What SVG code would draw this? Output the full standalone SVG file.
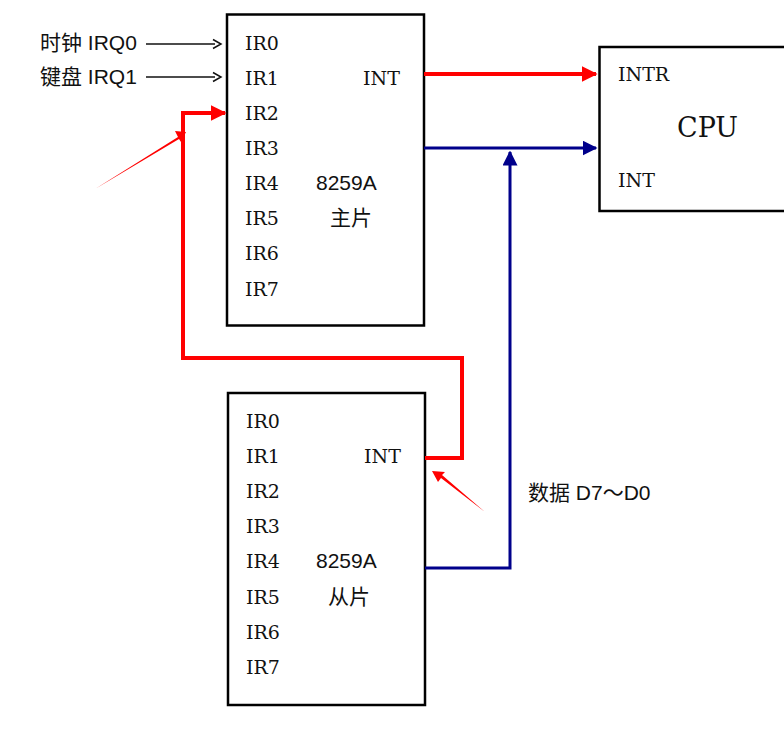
<svg xmlns="http://www.w3.org/2000/svg" width="784" height="729" viewBox="0 0 784 729">
<defs>
<style>
.box{fill:#fff;stroke:#000;stroke-width:2.5}
.ir{font-family:"DejaVu Serif","Liberation Serif","Noto Sans CJK SC",serif;font-size:19px;fill:#111}
.sans{font-family:"Liberation Sans","Noto Sans CJK SC",sans-serif;font-size:21px;fill:#111}
.red{fill:none;stroke:#f00;stroke-width:4}
.blue{fill:none;stroke:#00008b;stroke-width:3}
</style>
<marker id="ar" viewBox="0 0 10 10" refX="9" refY="5" markerWidth="4" markerHeight="4" orient="auto" markerUnits="strokeWidth"><path d="M0,0L10,5L0,10z" fill="#f00"/></marker>
<marker id="ab" viewBox="0 0 10 10" refX="9" refY="5" markerWidth="5" markerHeight="5" orient="auto" markerUnits="strokeWidth"><path d="M0,0L10,5L0,10z" fill="#00008b"/></marker>
</defs>
<g id="master">
<rect class="box" x="227" y="14.5" width="197" height="311"/>
<text class="ir" x="245" y="50">IR0</text>
<text class="ir" x="245" y="85">IR1</text>
<text class="ir" x="245" y="120">IR2</text>
<text class="ir" x="245" y="155">IR3</text>
<text class="ir" x="245" y="190">IR4</text>
<text class="ir" x="245" y="225">IR5</text>
<text class="ir" x="245" y="260">IR6</text>
<text class="ir" x="245" y="296">IR7</text>
<text class="ir" x="363" y="85">INT</text>
<text class="sans" x="316" y="190">8259A</text>
<text class="sans" x="330" y="225">主片</text>
</g>
<g id="slave">
<rect class="box" x="228" y="393" width="197" height="312"/>
<text class="ir" x="246" y="428">IR0</text>
<text class="ir" x="246" y="463">IR1</text>
<text class="ir" x="246" y="498">IR2</text>
<text class="ir" x="246" y="533">IR3</text>
<text class="ir" x="246" y="568">IR4</text>
<text class="ir" x="246" y="604">IR5</text>
<text class="ir" x="246" y="639">IR6</text>
<text class="ir" x="246" y="674">IR7</text>
<text class="ir" x="364" y="463">INT</text>
<text class="sans" x="316" y="568">8259A</text>
<text class="sans" x="328" y="604">从片</text>
</g>
<g id="cpu">
<rect class="box" x="599.5" y="47" width="200" height="164"/>
<text class="ir" x="618" y="81">INTR</text>
<text class="ir" x="677" y="137" style="font-size:27px">CPU</text>
<text class="ir" x="618" y="187">INT</text>
</g>
<g id="labels">
<text class="sans" x="40" y="50">时钟 IRQ0</text>
<text class="sans" x="40" y="84">键盘 IRQ1</text>
<text class="sans" x="528" y="500">数据 D7～D0</text>
</g>
<g id="connectors">
<line x1="146" y1="44" x2="215" y2="44" stroke="#111" stroke-width="1.5"/>
<polyline points="213,39.5 221,44 213,48.5" fill="none" stroke="#111" stroke-width="1.5"/>
<line x1="146" y1="77" x2="215" y2="77" stroke="#111" stroke-width="1.5"/>
<polyline points="213,72.5 221,77 213,81.5" fill="none" stroke="#111" stroke-width="1.5"/>
<line class="red" x1="424" y1="74" x2="596" y2="74" marker-end="url(#ar)"/>
<line class="blue" x1="424" y1="148" x2="596" y2="148" marker-end="url(#ab)"/>
<polyline class="blue" points="425,568 510,568 510,152" marker-end="url(#ab)"/>
<polyline class="red" points="425,458 462,458 462,358 183,358 183,113 225,113" marker-end="url(#ar)"/>
<polygon points="95,189 178,137 175,131 186,132 181,142 179,139" fill="#f00"/>
<polygon points="485,512 441,478 438,482 432,471 445,472 442,475" fill="#f00"/>
</g>
</svg>
